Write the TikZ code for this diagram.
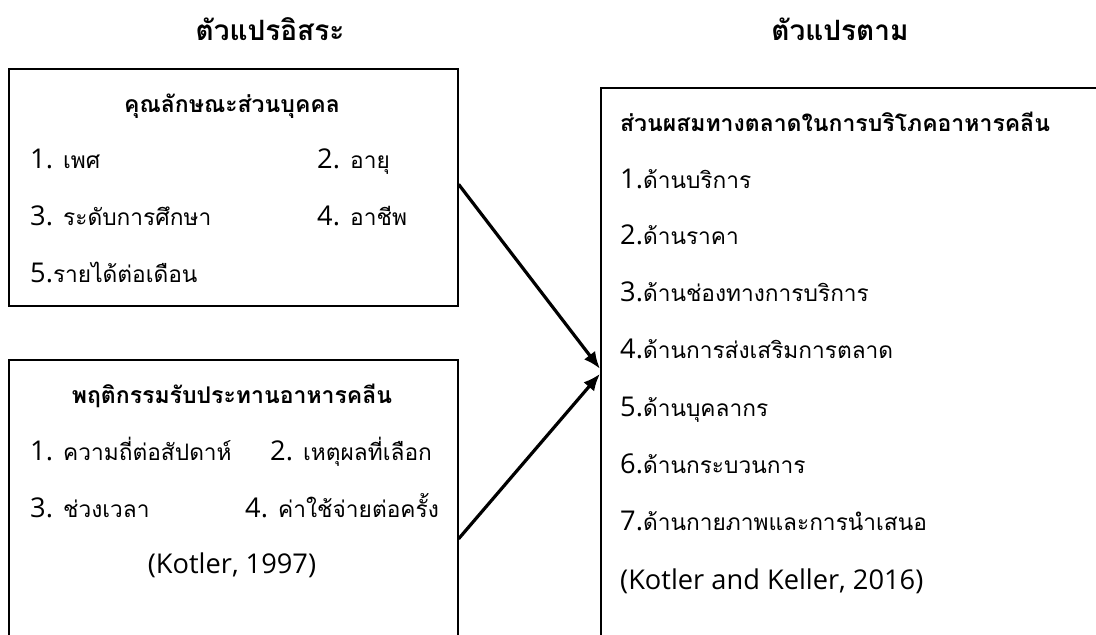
\documentclass[tikz,border=0pt]{standalone}
\usepackage{fontspec}
\usepackage{tikz}
\usetikzlibrary{arrows.meta}
\newfontfamily\thaifont[Script=Thai]{Loma}
\newfontfamily\latfont[Scale=1.2]{Open Sans}
\newcommand{\lt}[1]{{\latfont #1}}
\tikzstyle{frame} = [draw=black, line width=1.6pt, rectangle, anchor=north west, inner sep=0pt]
\tikzstyle{item} = [anchor=base west, inner sep=0pt]
\tikzstyle{head} = [anchor=base, inner sep=0pt, font=\thaifont\fontsize{28}{32}\selectfont\bfseries]
\tikzstyle{boxhead} = [anchor=base, inner sep=0pt, font=\thaifont\fontsize{23}{27}\selectfont\bfseries]
\tikzstyle{flow} = [line width=3.2pt, -{Latex[length=17pt,width=14pt]}]
\tikzset{font={\thaifont\fontsize{22.7}{26}\selectfont}}

\begin{document}
\begin{tikzpicture}[x=1pt, y=-1pt]
  \useasboundingbox (0,0) rectangle (1096,635);
  \clip (0,0) rectangle (1096,635);

  % column heads
  \node[head] (hin) at (270,40) {ตัวแปรอิสระ};
  \node[head] (hout) at (840,40) {ตัวแปรตาม};

  % personal characteristics
  \node[frame, minimum width=449pt, minimum height=237pt] (pers) at (8,68) {};
  \node[boxhead] (perst) at (232,112) {คุณลักษณะส่วนบุคคล};
  \node[item] (p1) at (30,168) {\lt{1.} เพศ};
  \node[item] (p2) at (317,168) {\lt{2.} อายุ};
  \node[item] (p3) at (30,225) {\lt{3.} ระดับการศึกษา};
  \node[item] (p4) at (317,225) {\lt{4.} อาชีพ};
  \node[item] (p5) at (30,282) {\lt{5.}รายได้ต่อเดือน};

  % eating behaviour
  \node[frame, minimum width=449pt, minimum height=358pt] (beh) at (8,359) {};
  \node[boxhead] (beht) at (232,403) {พฤติกรรมรับประทานอาหารคลีน};
  \node[item] (b1) at (30,460) {\lt{1.} ความถี่ต่อสัปดาห์};
  \node[item] (b2) at (270,460) {\lt{2.} เหตุผลที่เลือก};
  \node[item] (b3) at (30,517) {\lt{3.} ช่วงเวลา};
  \node[item] (b4) at (245,517) {\lt{4.} ค่าใช้จ่ายต่อครั้ง};
  \node[anchor=base, inner sep=0pt] (bref) at (232,573) {\lt{(Kotler, 1997)}};

  % marketing mix
  \node[frame, minimum width=520pt, minimum height=566pt] (mix) at (600,87) {};
  \node[boxhead, anchor=base west] (mixt) at (620,131) {ส่วนผสมทางตลาดในการบริโภคอาหารคลีน};
  \node[item] (m1) at (620,188) {\lt{1.}ด้านบริการ};
  \node[item] (m2) at (620,244) {\lt{2.}ด้านราคา};
  \node[item] (m3) at (620,301) {\lt{3.}ด้านช่องทางการบริการ};
  \node[item] (m4) at (620,358) {\lt{4.}ด้านการส่งเสริมการตลาด};
  \node[item] (m5) at (620,416) {\lt{5.}ด้านบุคลากร};
  \node[item] (m6) at (620,473) {\lt{6.}ด้านกระบวนการ};
  \node[item] (m7) at (620,530) {\lt{7.}ด้านกายภาพและการนำเสนอ};
  \node[item] (mref) at (620,589) {\lt{(Kotler and Keller, 2016)}};

  \draw[flow] ([yshift=3pt]pers.east) -- ([yshift=2pt]mix.west);
  \draw[flow] (beh.east) -- ([yshift=-3pt]mix.west);

\end{tikzpicture}
\end{document}
